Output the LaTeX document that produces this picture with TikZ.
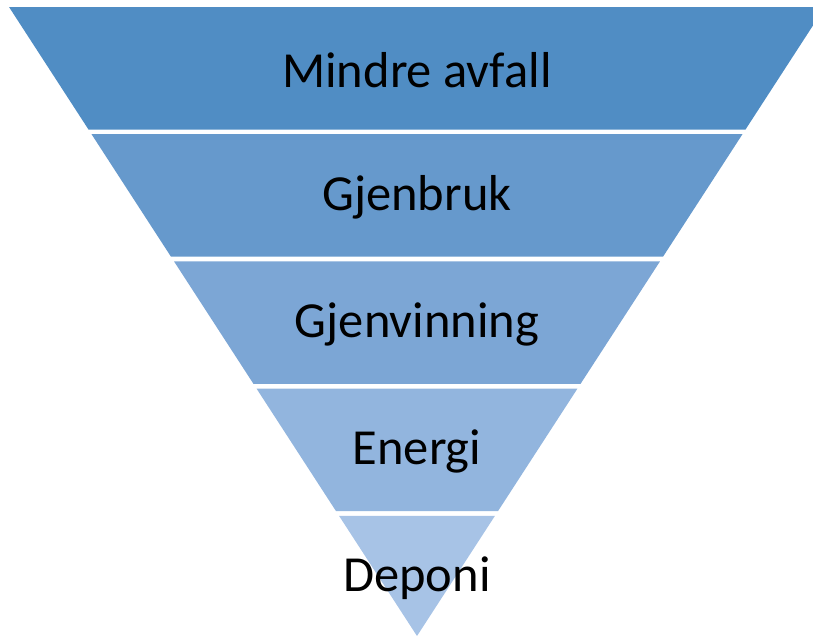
\documentclass[tikz,border=0pt]{standalone}
\usepackage{fontspec}
\setmainfont{Carlito}
\definecolor{lvlA}{HTML}{508DC4}
\definecolor{lvlB}{HTML}{6699CC}
\definecolor{lvlC}{HTML}{7CA6D5}
\definecolor{lvlD}{HTML}{92B5DE}
\definecolor{lvlE}{HTML}{A7C3E6}
\begin{document}
\begin{tikzpicture}[x=1pt, y=-1pt, every node/.style={font=\fontsize{50.5}{54}\selectfont}]

% --- frame and apex of the funnel ---
\useasboundingbox (0,0) rectangle (813,637);
\clip (0,0) rectangle (813,637);
\def\apx{417}   % apex x
\def\apy{636}   % apex y
\def\slope{0.6486}
% Draw the five bands with their labels
\foreach \i/\name/\col in {0/Mindre avfall/lvlA, 1/Gjenbruk/lvlB, 2/Gjenvinning/lvlC, 3/Energi/lvlD, 4/Deponi/lvlE} {
    \pgfmathsetmacro{\yt}{7+127.2*\i}
    \pgfmathsetmacro{\yb}{min(\yt+122.5,\apy)}
    \pgfmathsetmacro{\wt}{(\apy-\yt)*\slope}
    \pgfmathsetmacro{\wb}{(\apy-\yb)*\slope}
    \fill[\col] (\apx-\wt,\yt) -- (\apx+\wt,\yt) -- (\apx+\wb,\yb) -- (\apx-\wb,\yb) -- cycle;
    \node[yshift=-2pt] (band\i) at (\apx, {(\yt+\yb)/2}) {\name};
}

\end{tikzpicture}
\end{document}
